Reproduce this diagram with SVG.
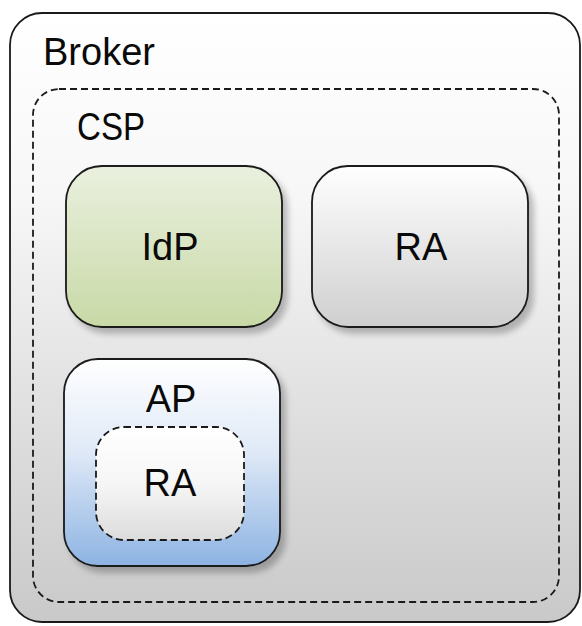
<svg xmlns="http://www.w3.org/2000/svg" width="582" height="626" viewBox="0 0 582 626">
  <defs>
    <linearGradient id="gBroker" x1="0" y1="0" x2="0" y2="1">
      <stop offset="0" stop-color="#ffffff"/>
      <stop offset="0.3" stop-color="#f7f7f7"/>
      <stop offset="1" stop-color="#c9c9c9"/>
    </linearGradient>
    <linearGradient id="gIdP" x1="0" y1="0" x2="0" y2="1">
      <stop offset="0" stop-color="#eaf0df"/>
      <stop offset="1" stop-color="#c8d9a6"/>
    </linearGradient>
    <linearGradient id="gRA" x1="0" y1="0" x2="0" y2="1">
      <stop offset="0" stop-color="#ffffff"/>
      <stop offset="1" stop-color="#cfcfcf"/>
    </linearGradient>
    <linearGradient id="gAP" x1="0" y1="0" x2="0" y2="1">
      <stop offset="0" stop-color="#ffffff"/>
      <stop offset="0.45" stop-color="#dfe9f7"/>
      <stop offset="1" stop-color="#8db3e2"/>
    </linearGradient>
    <linearGradient id="gRA2" x1="0" y1="0" x2="0" y2="1">
      <stop offset="0" stop-color="#ffffff"/>
      <stop offset="0.5" stop-color="#f6f6f6"/>
      <stop offset="1" stop-color="#dcdcdc"/>
    </linearGradient>
    <filter id="shadow" x="-10%" y="-10%" width="130%" height="130%">
      <feGaussianBlur in="SourceAlpha" stdDeviation="3"/>
      <feOffset dx="5" dy="6" result="b"/>
      <feComponentTransfer><feFuncA type="linear" slope="0.25"/></feComponentTransfer>
      <feMerge><feMergeNode/><feMergeNode in="SourceGraphic"/></feMerge>
    </filter>
  </defs>
  <style>
    .box { stroke: #1a1a1a; stroke-width: 1.8; }
    .dash { stroke: #1a1a1a; stroke-width: 1.8; stroke-dasharray: 7 4; }
    .lbl { font-family: "Liberation Sans", Arial, sans-serif; font-size: 38px; fill: #0a0a0a; }
    .mid { text-anchor: middle; }
  </style>
  <rect width="582" height="626" fill="#ffffff"/>
  <g id="broker">
    <rect class="box" x="10" y="13" width="570" height="609" rx="32" fill="url(#gBroker)"/>
    <text class="lbl" x="43" y="65" font-size="40">Broker</text>
  </g>
  <g id="csp">
    <rect class="dash" x="33" y="89" width="526" height="513" rx="26" fill="none"/>
    <text class="lbl" x="77" y="140" textLength="68" lengthAdjust="spacingAndGlyphs">CSP</text>
  </g>
  <g id="idp">
    <rect class="box" x="66" y="166" width="216" height="161" rx="36" fill="url(#gIdP)" filter="url(#shadow)"/>
    <text class="lbl mid" x="170" y="260">IdP</text>
  </g>
  <g id="ra">
    <rect class="box" x="312" y="166" width="216" height="161" rx="36" fill="url(#gRA)" filter="url(#shadow)"/>
    <text class="lbl mid" x="421" y="260">RA</text>
  </g>
  <g id="ap">
    <rect class="box" x="64" y="359" width="216" height="207" rx="34" fill="url(#gAP)" filter="url(#shadow)"/>
    <text class="lbl mid" x="171" y="412">AP</text>
  </g>
  <g id="ap-ra">
    <rect class="dash" x="96" y="427" width="148" height="113" rx="28" fill="url(#gRA2)"/>
    <text class="lbl mid" x="170" y="496">RA</text>
  </g>
  <g id="connectors"/>
</svg>
